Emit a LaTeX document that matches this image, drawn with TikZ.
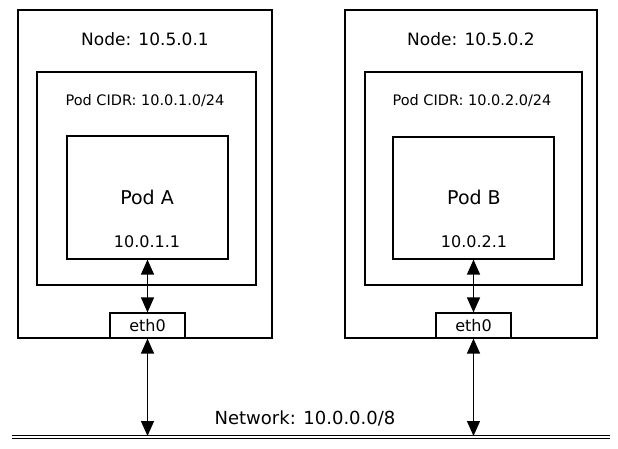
\documentclass[tikz,border=0pt]{standalone}
\usepackage{fontspec}
\setmainfont{DejaVu Sans}
\usetikzlibrary{arrows.meta}
\begin{document}
\begin{tikzpicture}[x=1pt,y=-1pt,
  box/.style={draw=black,line width=1.2pt,fill=white,inner sep=0pt},
  lbl/.style={inner sep=0pt,font=\fontsize{#1}{#1}\selectfont},
  link/.style={line width=1.4pt,{Triangle[length=15pt,width=13pt]}-{Triangle[length=15pt,width=13pt]}}]
\useasboundingbox (0,0) rectangle (618,449);
% Node 1
\node[box,minimum width=254pt,minimum height=328pt] (n1) at (145,174) {};
\node[lbl=17] (n1l) at (145,39) {Node: 10.5.0.1};
\node[box,minimum width=219pt,minimum height=213pt] (c1) at (146.5,178.5) {};
\node[lbl=14.5] (c1l) at (145,101) {Pod CIDR: 10.0.1.0/24};
\node[box,minimum width=161pt,minimum height=123pt] (p1) at (147.5,197.5) {};
\node[lbl=19] (p1l) at (147,197) {Pod A};
\node[lbl=16] (p1ip) at (147,242) {10.0.1.1};
\node[box,minimum width=75pt,minimum height=25pt] (e1) at (147.5,325.5) {};
\node[lbl=16] (e1l) at (147.5,326) {eth0};
% Node 2
\node[box,minimum width=252pt,minimum height=328pt] (n2) at (471,174) {};
\node[lbl=17] (n2l) at (471,39) {Node: 10.5.0.2};
\node[box,minimum width=217pt,minimum height=213pt] (c2) at (473.5,178.5) {};
\node[lbl=14.5] (c2l) at (472,101) {Pod CIDR: 10.0.2.0/24};
\node[box,minimum width=161pt,minimum height=122pt] (p2) at (473.5,198) {};
\node[lbl=19] (p2l) at (474,197) {Pod B};
\node[lbl=16] (p2ip) at (474,242) {10.0.2.1};
\node[box,minimum width=75pt,minimum height=25pt] (e2) at (473.5,325.5) {};
\node[lbl=16] (e2l) at (473.5,326) {eth0};
% Network
\coordinate (netL) at (12,437);
\coordinate (netR) at (610,437);
\draw[line width=0.9pt,double,double distance=1.6pt] (netL) -- (netR);
\node[lbl=18] (netl) at (305,418) {Network: 10.0.0.0/8};
\coordinate (t1) at (147.5,436);
\coordinate (t2) at (473.5,436);
% Links
\draw[link] (p1.south) -- (e1.north);
\draw[link] (e1.south) -- (t1);
\draw[link] (p2.south) -- (e2.north);
\draw[link] (e2.south) -- (t2);
\end{tikzpicture}
\end{document}
